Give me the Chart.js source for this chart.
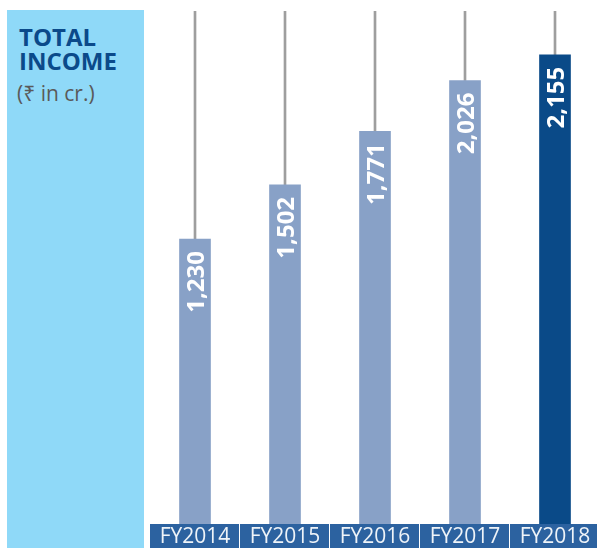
<!DOCTYPE html>
<html>
<head>
<meta charset="utf-8">
<script src="https://cdn.jsdelivr.net/npm/chart.js@4"></script>
<style>
  html, body { margin: 0; padding: 0; background: #fff; overflow: hidden; width: 597px; height: 548px; }
  #panel { position: absolute; left: 7px; top: 10px; width: 137px; height: 538px; background: #8fd9f8; }
  #title { position: absolute; left: 19px; top: 25px; font-family: "Open Sans", sans-serif; font-weight: bold; font-size: 24px; line-height: 24px; color: #0b4a8a; margin: 0; }
  #unit { position: absolute; left: 17px; top: 83px; font-family: "Open Sans", "Noto Sans", "DejaVu Sans", sans-serif; font-size: 21px; line-height: 21px; color: #5a5a5a; }
  #wrap { position: absolute; left: 0; top: 0; width: 600px; height: 548px; }
</style>
</head>
<body>
<div id="panel"></div>
<div id="title">TOTAL<br>INCOME</div>
<div id="unit">(₹ in cr.)</div>
<div id="wrap"><canvas id="c" width="600" height="548"></canvas></div>
<script>
const categories = ['FY2014', 'FY2015', 'FY2016', 'FY2017', 'FY2018'];
const values = [1230, 1502, 1771, 2026, 2155];
const valueLabels = ['1,230', '1,502', '1,771', '2,026', '2,155'];

const Y_MIN = -200;
const Y_MAX = 2375;
const BAR_COLOR = '#88a1c7';
const HIGHLIGHT_COLOR = '#0a4a88';
const STEM_COLOR = '#9e9e9e';
const BOX_COLOR = '#2c62a0';

const labelBoxes = {
  id: 'labelBoxes',
  beforeDraw(chart) {
    const xs = chart.scales.x;
    const ctx = chart.ctx;
    const n = chart.data.labels.length;
    const w = (xs.right - xs.left) / n;
    ctx.save();
    ctx.fillStyle = BOX_COLOR;
    for (let i = 0; i < n; i++) {
      const left = xs.left + i * w;
      ctx.fillRect(left, xs.top, w - 1, xs.bottom - xs.top);
    }
    ctx.restore();
  }
};

const barValueLabels = {
  id: 'barValueLabels',
  afterDatasetsDraw(chart) {
    const meta = chart.getDatasetMeta(0);
    const ctx = chart.ctx;
    ctx.save();
    ctx.fillStyle = '#ffffff';
    ctx.font = 'bold 24px "Open Sans", sans-serif';
    ctx.textAlign = 'right';
    ctx.textBaseline = 'alphabetic';
    meta.data.forEach((bar, i) => {
      ctx.save();
      ctx.translate(bar.x, bar.y + 12);
      ctx.rotate(-Math.PI / 2);
      ctx.fillText(valueLabels[i], 0, 8.5);
      ctx.restore();
    });
    ctx.restore();
  }
};

new Chart(document.getElementById('c'), {
  type: 'bar',
  data: {
    labels: categories,
    datasets: [
      {
        data: values,
        base: Y_MIN,
        backgroundColor: values.map((v, i) => i === values.length - 1 ? HIGHLIGHT_COLOR : BAR_COLOR),
        barThickness: 31,
        grouped: false,
        order: 0
      },
      {
        data: values.map(v => [v, Y_MAX]),
        backgroundColor: STEM_COLOR,
        barThickness: 2,
        grouped: false,
        order: 1
      }
    ]
  },
  options: {
    responsive: false,
    animation: false,
    devicePixelRatio: 1,
    layout: { padding: { left: 150, top: 11, right: 0, bottom: 0 } },
    plugins: { legend: { display: false }, tooltip: { enabled: false } },
    scales: {
      x: {
        grid: { display: false, drawTicks: false },
        border: { display: false },
        ticks: {
          color: '#eef3f8',
          font: { family: '"Open Sans", sans-serif', size: 21 },
          padding: 0,
          maxRotation: 0,
          autoSkip: false
        },
        afterFit(scale) { scale.height = 24; }
      },
      y: { display: false, min: Y_MIN, max: Y_MAX }
    }
  },
  plugins: [labelBoxes, barValueLabels]
});
</script>
</body>
</html>
